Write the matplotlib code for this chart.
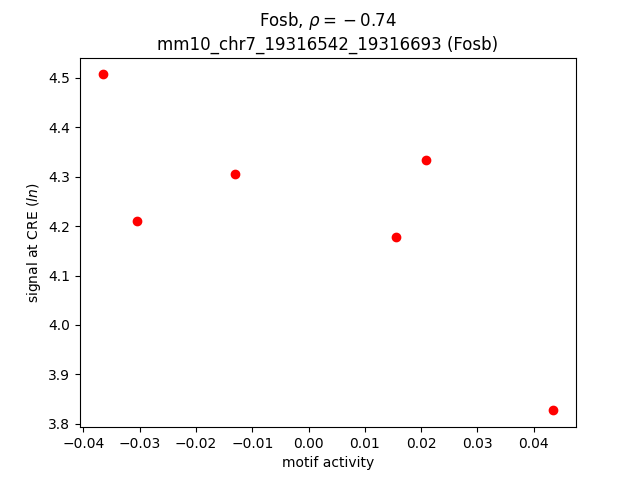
import matplotlib
matplotlib.use("Agg")
import matplotlib.pyplot as plt

motif_activity = [-0.0366, -0.0304, -0.0131, 0.0156, 0.0209, 0.0435]
signal = [4.507, 4.210, 4.306, 4.177, 4.333, 3.827]

fig, ax = plt.subplots(figsize=(6.4, 4.8), dpi=100)
ax.scatter(motif_activity, signal, color="red")
ax.set_xlabel("motif activity")
ax.set_ylabel("signal at CRE ($ln$)")
ax.set_title("Fosb, $\\rho = {}-0.74$\nmm10_chr7_19316542_19316693 (Fosb)")
fig.savefig("out.png")
